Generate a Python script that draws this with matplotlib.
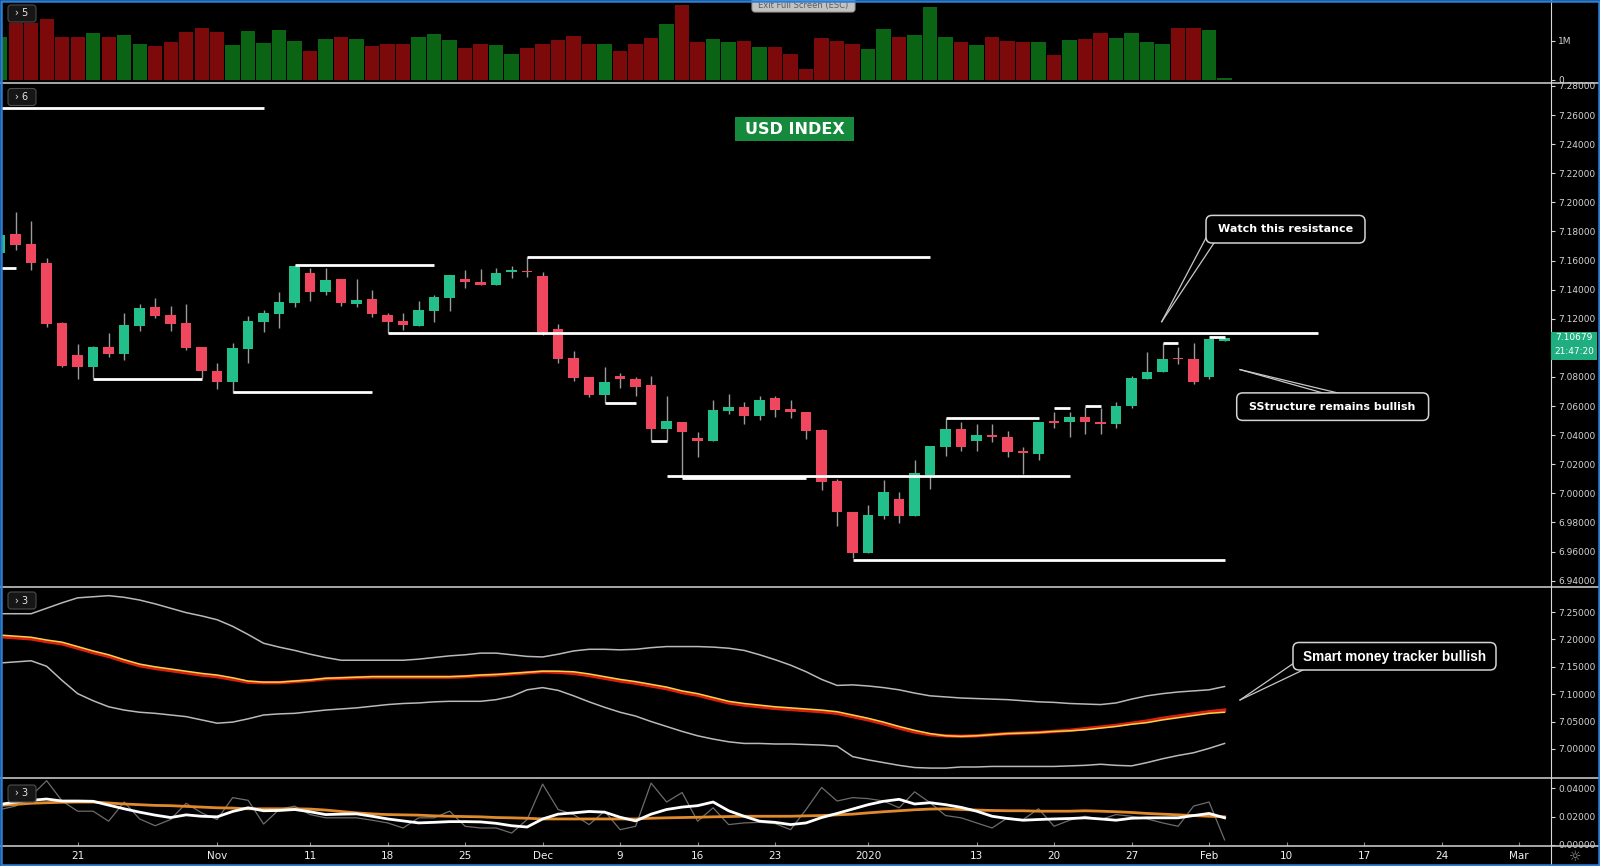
import numpy as np
import matplotlib.pyplot as plt
from matplotlib.patches import Rectangle, FancyBboxPatch
from matplotlib.lines import Line2D
from matplotlib import font_manager

# daily bars, index 0 = 21 Oct 2019 (weekends, 25 Dec and 1 Jan skipped)
bar_idx = np.arange(-5, 75)

opens = [7.1650, 7.1782, 7.1713, 7.1585, 7.1168, 7.0951, 7.0866, 7.1008, 7.0957, 7.1152,
         7.1282, 7.1225, 7.1168, 7.1008, 7.0841, 7.0767, 7.0990, 7.1179, 7.1232, 7.1310,
         7.1516, 7.1381, 7.1473, 7.1301, 7.1335, 7.1225, 7.1184, 7.1152, 7.1255, 7.1340,
         7.1473, 7.1450, 7.1432, 7.1520, 7.1525, 7.1493, 7.1127, 7.0928, 7.0797, 7.0676,
         7.0806, 7.0784, 7.0744, 7.0440, 7.0492, 7.0378, 7.0362, 7.0568, 7.0595, 7.0533,
         7.0653, 7.0577, 7.0557, 7.0435, 7.0087, 6.9874, 6.9588, 6.9844, 6.9961, 6.9846,
         7.0126, 7.0316, 7.0440, 7.0362, 7.0401, 7.0389, 7.0291, 7.0270, 7.0490, 7.0488,
         7.0526, 7.0492, 7.0474, 7.0600, 7.0786, 7.0832, 7.0925, 7.0921, 7.0801, 7.1049]
highs = [7.1800, 7.1935, 7.1871, 7.1615, 7.1179, 7.1026, 7.1014, 7.1100, 7.1237, 7.1299,
         7.1340, 7.1289, 7.1299, 7.1008, 7.0898, 7.1031, 7.1219, 7.1260, 7.1381, 7.1569,
         7.1546, 7.1546, 7.1473, 7.1473, 7.1397, 7.1241, 7.1237, 7.1322, 7.1363, 7.1500,
         7.1535, 7.1539, 7.1551, 7.1562, 7.1626, 7.1523, 7.1162, 7.0980, 7.0801, 7.0866,
         7.0829, 7.0801, 7.0806, 7.0671, 7.0492, 7.0423, 7.0641, 7.0680, 7.0630, 7.0671,
         7.0671, 7.0641, 7.0561, 7.0440, 7.0096, 6.9874, 6.9920, 7.0091, 7.0011, 7.0229,
         7.0325, 7.0515, 7.0488, 7.0474, 7.0474, 7.0428, 7.0316, 7.0492, 7.0561, 7.0561,
         7.0595, 7.0584, 7.0630, 7.0806, 7.0969, 7.1035, 7.1008, 7.1035, 7.1058, 7.1070]
lows = [7.1630, 7.1672, 7.1535, 7.1145, 7.0870, 7.0784, 7.0790, 7.0935, 7.0916, 7.1118,
        7.1207, 7.1118, 7.0985, 7.0790, 7.0715, 7.0687, 7.0898, 7.1111, 7.1138, 7.1282,
        7.1324, 7.1363, 7.1287, 7.1282, 7.1214, 7.1100, 7.1122, 7.1152, 7.1179, 7.1255,
        7.1409, 7.1432, 7.1432, 7.1478, 7.1485, 7.1088, 7.0898, 7.0774, 7.0664, 7.0623,
        7.0722, 7.0671, 7.0362, 7.0362, 7.0114, 7.0252, 7.0362, 7.0545, 7.0476, 7.0504,
        7.0526, 7.0520, 7.0373, 7.0023, 6.9775, 6.9553, 6.9588, 6.9821, 6.9794, 6.9846,
        7.0027, 7.0256, 7.0293, 7.0293, 7.0355, 7.0252, 7.0133, 7.0229, 7.0451, 7.0389,
        7.0405, 7.0408, 7.0447, 7.0584, 7.0786, 7.0832, 7.0887, 7.0751, 7.0783, 7.1045]
closes = [7.1775, 7.1706, 7.1581, 7.1162, 7.0875, 7.0866, 7.1008, 7.0957, 7.1157, 7.1271,
          7.1221, 7.1164, 7.0997, 7.0843, 7.0767, 7.0997, 7.1184, 7.1237, 7.1317, 7.1562,
          7.1386, 7.1466, 7.1306, 7.1328, 7.1230, 7.1175, 7.1157, 7.1260, 7.1347, 7.1500,
          7.1454, 7.1432, 7.1516, 7.1524, 7.1519, 7.1111, 7.0923, 7.0790, 7.0676, 7.0767,
          7.0784, 7.0733, 7.0440, 7.0497, 7.0419, 7.0362, 7.0573, 7.0595, 7.0533, 7.0641,
          7.0573, 7.0557, 7.0430, 7.0080, 6.9869, 6.9588, 6.9851, 7.0007, 6.9846, 7.0137,
          7.0325, 7.0440, 7.0320, 7.0401, 7.0385, 7.0286, 7.0275, 7.0492, 7.0486, 7.0526,
          7.0488, 7.0474, 7.0600, 7.0790, 7.0836, 7.0921, 7.0920, 7.0767, 7.1058, 7.1068]
volume_m = [1.105, 1.468, 1.468, 1.563, 1.105, 1.105, 1.192, 1.088, 1.149, 0.915,
            0.864, 0.976, 1.218, 1.321, 1.218, 0.889, 1.252, 0.950, 1.278, 0.993,
            0.743, 1.036, 1.088, 1.036, 0.864, 0.933, 0.933, 1.105, 1.166, 1.019,
            0.820, 0.915, 0.889, 0.674, 0.820, 0.933, 1.019, 1.123, 0.915, 0.933,
            0.734, 0.933, 1.062, 1.434, 1.926, 0.976, 1.036, 0.976, 1.002, 0.846,
            0.846, 0.674, 0.285, 1.062, 0.993, 0.915, 0.803, 1.295, 1.088, 1.149,
            1.865, 1.088, 0.976, 0.889, 1.105, 0.993, 0.959, 0.959, 0.630, 1.019,
            1.045, 1.192, 1.062, 1.192, 0.976, 0.933, 1.321, 1.321, 1.278, 0.050]

# smart money tracker pane
band_upper = [7.247, 7.247, 7.247, 7.257, 7.267, 7.276, 7.278, 7.280, 7.277, 7.272,
              7.265, 7.257, 7.249, 7.243, 7.236, 7.224, 7.209, 7.193, 7.186, 7.180,
              7.173, 7.167, 7.162, 7.162, 7.162, 7.162, 7.162, 7.164, 7.167, 7.170,
              7.172, 7.175, 7.175, 7.172, 7.169, 7.168, 7.173, 7.179, 7.182, 7.182,
              7.181, 7.182, 7.185, 7.187, 7.187, 7.187, 7.186, 7.184, 7.180, 7.172,
              7.163, 7.153, 7.141, 7.127, 7.116, 7.117, 7.115, 7.112, 7.108, 7.102,
              7.097, 7.095, 7.093, 7.092, 7.091, 7.090, 7.088, 7.086, 7.085, 7.083,
              7.082, 7.081, 7.084, 7.091, 7.097, 7.101, 7.104, 7.106, 7.108, 7.114]
band_lower = [7.157, 7.159, 7.161, 7.151, 7.125, 7.101, 7.088, 7.077, 7.071, 7.067,
              7.065, 7.062, 7.059, 7.053, 7.047, 7.049, 7.055, 7.062, 7.064, 7.065,
              7.068, 7.071, 7.073, 7.075, 7.078, 7.081, 7.083, 7.084, 7.086, 7.087,
              7.087, 7.087, 7.090, 7.096, 7.108, 7.112, 7.107, 7.097, 7.086, 7.076,
              7.067, 7.060, 7.050, 7.041, 7.032, 7.024, 7.018, 7.013, 7.010, 7.010,
              7.009, 7.009, 7.008, 7.007, 7.005, 6.986, 6.980, 6.975, 6.970, 6.966,
              6.965, 6.965, 6.967, 6.967, 6.968, 6.968, 6.968, 6.968, 6.968, 6.969,
              6.970, 6.972, 6.970, 6.969, 6.975, 6.982, 6.988, 6.993, 7.001, 7.010]
ma_red = [7.205, 7.203, 7.201, 7.196, 7.192, 7.184, 7.176, 7.169, 7.160, 7.152,
          7.147, 7.143, 7.139, 7.135, 7.132, 7.127, 7.122, 7.121, 7.121, 7.123,
          7.125, 7.128, 7.129, 7.130, 7.131, 7.131, 7.131, 7.131, 7.131, 7.131,
          7.132, 7.134, 7.135, 7.137, 7.139, 7.141, 7.140, 7.138, 7.134, 7.129,
          7.124, 7.120, 7.115, 7.110, 7.103, 7.098, 7.091, 7.084, 7.080, 7.077,
          7.074, 7.072, 7.070, 7.068, 7.065, 7.059, 7.053, 7.046, 7.038, 7.031,
          7.026, 7.024, 7.023, 7.024, 7.026, 7.028, 7.029, 7.030, 7.032, 7.034,
          7.037, 7.040, 7.043, 7.047, 7.051, 7.056, 7.060, 7.064, 7.068, 7.071]
ma_yellow = [7.208, 7.206, 7.204, 7.199, 7.195, 7.187, 7.179, 7.172, 7.163, 7.155,
             7.150, 7.146, 7.142, 7.138, 7.135, 7.130, 7.124, 7.122, 7.122, 7.124,
             7.126, 7.129, 7.130, 7.131, 7.132, 7.132, 7.132, 7.132, 7.132, 7.132,
             7.133, 7.135, 7.136, 7.138, 7.140, 7.142, 7.142, 7.141, 7.137, 7.132,
             7.127, 7.123, 7.118, 7.113, 7.106, 7.101, 7.094, 7.087, 7.083, 7.080,
             7.077, 7.075, 7.073, 7.071, 7.068, 7.062, 7.056, 7.049, 7.041, 7.034,
             7.028, 7.024, 7.023, 7.024, 7.026, 7.028, 7.029, 7.030, 7.032, 7.033,
             7.035, 7.038, 7.041, 7.045, 7.048, 7.053, 7.057, 7.061, 7.065, 7.067]

# oscillator pane
osc_raw = [0.0251, 0.0275, 0.0347, 0.0455, 0.0311, 0.0239, 0.0239, 0.0168, 0.0304, 0.0184,
           0.0136, 0.0180, 0.0295, 0.0227, 0.0180, 0.0335, 0.0316, 0.0148, 0.0251, 0.0275,
           0.0215, 0.0192, 0.0192, 0.0192, 0.0175, 0.0156, 0.0120, 0.0192, 0.0192, 0.0239,
           0.0132, 0.0120, 0.0120, 0.0084, 0.0180, 0.0431, 0.0251, 0.0215, 0.0144, 0.0239,
           0.0108, 0.0132, 0.0438, 0.0304, 0.0371, 0.0168, 0.0263, 0.0144, 0.0156, 0.0160,
           0.0151, 0.0108, 0.0251, 0.0407, 0.0311, 0.0335, 0.0328, 0.0311, 0.0263, 0.0376,
           0.0299, 0.0208, 0.0192, 0.0156, 0.0120, 0.0192, 0.0180, 0.0256, 0.0132, 0.0175,
           0.0203, 0.0180, 0.0215, 0.0203, 0.0184, 0.0156, 0.0132, 0.0275, 0.0304, 0.0036]
osc_fast = [0.0287, 0.0304, 0.0316, 0.0325, 0.0311, 0.0311, 0.0309, 0.0282, 0.0256, 0.0232,
            0.0211, 0.0194, 0.0213, 0.0203, 0.0199, 0.0237, 0.0263, 0.0242, 0.0244, 0.0251,
            0.0235, 0.0215, 0.0218, 0.0220, 0.0203, 0.0184, 0.0170, 0.0156, 0.0160, 0.0165,
            0.0165, 0.0163, 0.0153, 0.0136, 0.0127, 0.0184, 0.0218, 0.0227, 0.0237, 0.0232,
            0.0196, 0.0170, 0.0218, 0.0251, 0.0268, 0.0278, 0.0304, 0.0242, 0.0203, 0.0168,
            0.0160, 0.0144, 0.0156, 0.0194, 0.0223, 0.0254, 0.0285, 0.0309, 0.0323, 0.0290,
            0.0299, 0.0285, 0.0266, 0.0239, 0.0203, 0.0187, 0.0175, 0.0180, 0.0184, 0.0187,
            0.0192, 0.0184, 0.0175, 0.0189, 0.0192, 0.0192, 0.0192, 0.0208, 0.0223, 0.0192]
osc_slow = [0.0280, 0.0287, 0.0295, 0.0299, 0.0302, 0.0304, 0.0304, 0.0297, 0.0290, 0.0285,
            0.0280, 0.0278, 0.0273, 0.0268, 0.0263, 0.0261, 0.0256, 0.0256, 0.0256, 0.0256,
            0.0254, 0.0247, 0.0237, 0.0227, 0.0220, 0.0215, 0.0213, 0.0211, 0.0206, 0.0203,
            0.0201, 0.0199, 0.0194, 0.0192, 0.0189, 0.0184, 0.0184, 0.0184, 0.0184, 0.0184,
            0.0184, 0.0184, 0.0189, 0.0192, 0.0194, 0.0196, 0.0199, 0.0201, 0.0203, 0.0203,
            0.0203, 0.0203, 0.0206, 0.0208, 0.0213, 0.0218, 0.0227, 0.0235, 0.0242, 0.0249,
            0.0254, 0.0256, 0.0251, 0.0247, 0.0244, 0.0242, 0.0242, 0.0239, 0.0239, 0.0239,
            0.0242, 0.0239, 0.0235, 0.0230, 0.0223, 0.0218, 0.0213, 0.0208, 0.0203, 0.0199]

date_ticks = [0, 9, 15, 20, 25, 30, 35, 40, 45, 51, 58, 63, 68, 73, 78, 83, 88, 93]
date_labels = ['21', 'Nov', '11', '18', '25', 'Dec', '9', '16', '23', '2020',
               '13', '20', '27', 'Feb', '10', '17', '24', 'Mar']
# 7.10000 sits under the last-price tag, so it is left out
price_ticks = [6.94, 6.96, 6.98, 7.00, 7.02, 7.04, 7.06, 7.08, 7.12, 7.14,
               7.16, 7.18, 7.20, 7.22, 7.24, 7.26, 7.28]
tracker_ticks = [7.00, 7.05, 7.10, 7.15, 7.20, 7.25]
osc_ticks = [0.00, 0.02, 0.04]
vol_ticks = [0, 1]
vol_labels = ['0', '1M']

# hand drawn levels: (price, first bar, last bar)
levels = [(7.2647, -5, 12), (7.1546, -5, -4), (7.0783, 1, 8), (7.0694, 10, 19),
          (7.1569, 14, 23), (7.1100, 20, 80), (7.1626, 29, 55), (7.0623, 34, 36),
          (7.0362, 37, 38), (7.0119, 38, 64), (7.0103, 39, 47), (7.0515, 56, 62),
          (6.9542, 50, 74), (7.0584, 63, 64), (7.0600, 65, 66), (7.1031, 70, 71),
          (7.1076, 73, 74)]
last_price = 7.10679
countdown = '21:47:20'

UP, DOWN = '#22bf8a', '#f0475f'
VOL_UP, VOL_DOWN = '#0b6414', '#7d0a0a'

plt.rcParams['font.family'] = ['DejaVu Sans']
names = {f.name for f in font_manager.fontManager.ttflist}
narrow = 'Liberation Sans Narrow' if 'Liberation Sans Narrow' in names else 'Liberation Sans'

W, H = 1600, 866
fig = plt.figure(figsize=(W / 100, H / 100), dpi=100, facecolor='black')
T = fig.dpi_scale_trans


def P(x, y):
    return x / 100, (H - y) / 100


def seg(x0, y0, x1, y1, **kw):
    fig.add_artist(Line2D([x0 / 100, x1 / 100], [(H - y0) / 100, (H - y1) / 100],
                          transform=T, **kw))


def box(x0, y0, x1, y1, r, fc, ec, lw=1.0, z=5):
    style = f'round,pad=0,rounding_size={r / 100}' if r else 'square,pad=0'
    fig.add_artist(FancyBboxPatch(P(x0, y1), (x1 - x0) / 100, (y1 - y0) / 100,
                                  boxstyle=style, transform=T, fc=fc, ec=ec, lw=lw, zorder=z))


def add_pane(top, bottom, ylim):
    ax = fig.add_axes([2 / W, 1 - bottom / H, 1549 / W, (bottom - top) / H])
    ax.set_facecolor('black')
    for s in ax.spines.values():
        s.set_visible(False)
    ax.set_xlim(-4.88, 95.06)
    ax.set_ylim(*ylim)
    ax.tick_params(axis='x', bottom=False, labelbottom=False)
    ax.yaxis.tick_right()
    ax.tick_params(axis='y', colors='#d4d4d4', labelsize=6.5, length=3, width=0.8, pad=2)
    return ax


o, h, l, c = map(np.array, (opens, highs, lows, closes))
up = c >= o

# volume
ax_v = add_pane(2, 82, (-0.052, 1.995))
ax_v.bar(bar_idx, volume_m, width=0.92, color=np.where(up, VOL_UP, VOL_DOWN))
ax_v.set_yticks(vol_ticks)
ax_v.set_yticklabels(vol_labels)

# price candles
ax = add_pane(83, 586, (6.9363, 7.2820))
ax.vlines(bar_idx, l, h, color='#9a9a9a', lw=1, zorder=2)
ax.bar(bar_idx, np.maximum(np.abs(c - o), 0.0012), bottom=np.minimum(o, c), width=0.68,
       color=np.where(up, UP, DOWN), zorder=3)
for price, a, b in levels:
    ax.hlines(price, a, b, color='white', lw=2.0, zorder=4)
ax.set_yticks(price_ticks)
ax.set_yticklabels([f'{t:.5f}' for t in price_ticks])

# smart money tracker
ax3 = add_pane(587.5, 777, (6.9487, 7.2949))
ax3.plot(bar_idx, band_upper, color='#b9b9b9', lw=1.1)
ax3.plot(bar_idx, band_lower, color='#b9b9b9', lw=1.1)
ax3.plot(bar_idx, ma_red, color='#d8200f', lw=2.4)
ax3.plot(bar_idx, ma_yellow, color='#f3d34a', lw=1.1)
ax3.set_yticks(tracker_ticks)
ax3.set_yticklabels([f'{t:.5f}' for t in tracker_ticks])

# oscillator
ax4 = add_pane(778, 845.5, (-0.0004, 0.0474))
ax4.plot(bar_idx, osc_raw, color='#6c6c6c', lw=0.9)
ax4.plot(bar_idx, osc_slow, color='#e08a2c', lw=2.0)
ax4.plot(bar_idx, osc_fast, color='white', lw=2.0)
ax4.set_yticks(osc_ticks)
ax4.set_yticklabels([f'{t:.5f}' for t in osc_ticks])
ax4.set_xticks(date_ticks)
ax4.set_xticklabels(date_labels)
ax4.tick_params(axis='x', bottom=True, labelbottom=True, direction='in', length=3,
                color='#8a8a8a', labelcolor='#f0f0f0', labelsize=7.5, pad=4)

# pane separators and price axis line
for y in (82.5, 587, 777.5, 845.5):
    seg(0, y, W, y, color='#c4c4c4', lw=1.2, zorder=6)
seg(1551, 0, 1551, H, color='#d8d8d8', lw=0.8, zorder=6)

# last price label
fig.add_artist(Rectangle(P(1551, 360), 46 / 100, 28.3 / 100, transform=T, fc='#1fae80', ec='none', zorder=7))
fig.text(*P(1574, 337.6), f'{last_price:.5f}', transform=T, color='white', fontsize=6.5,
         ha='center', va='center', zorder=8)
fig.text(*P(1574, 351.5), countdown, transform=T, color='white', fontsize=6.5,
         ha='center', va='center', zorder=8)

# pane tags
for y0, tag in ((5, '› 5'), (88.5, '› 6'), (592, '› 3'), (785, '› 3')):
    box(8, y0, 36, y0 + 17, 3, '#161616', '#4c4c4c', lw=0.8, z=7)
    fig.text(*P(22, y0 + 8.5), tag, transform=T, color='#e6e6e6', fontsize=7,
             ha='center', va='center', zorder=8)

# exit full screen button
box(752, -4, 855, 12, 3, '#c2c2c2', '#9a9a9a', lw=0.8, z=7)
fig.text(*P(803.5, 5.5), 'Exit Full Screen (ESC)', transform=T, color='#5c5c5c',
         fontsize=6, ha='center', va='center', zorder=8)

# title tag
box(734.7, 117.4, 854, 140.9, 0, '#168a3c', 'none', lw=0, z=7)
fig.text(*P(794.4, 129.6), 'USD INDEX', transform=T, color='white', fontsize=11.5,
         fontweight='bold', ha='center', va='center', zorder=8)

# callouts
pointer = dict(color='#c8c8c8', lw=0.9, zorder=6)
seg(1207, 236, 1161.7, 321.7, **pointer)
seg(1214, 243, 1161.7, 321.7, **pointer)
box(1206, 215.4, 1365, 243, 6, 'black', '#d4d4d4', lw=1.1, z=7)
fig.text(*P(1285.5, 229.5), 'Watch this resistance', transform=T, color='white',
         fontsize=8, fontweight='bold', ha='center', va='center', zorder=8)

seg(1323, 393, 1240, 369.6, **pointer)
seg(1338, 393, 1240, 369.6, **pointer)
box(1236.7, 392.9, 1428.6, 420.4, 6, 'black', '#d4d4d4', lw=1.1, z=7)
fig.text(*P(1332.6, 407), 'SStructure remains bullish', transform=T, color='white',
         fontsize=8, fontweight='bold', ha='center', va='center', zorder=8)

seg(1294, 663, 1240, 700, **pointer)
seg(1303, 670, 1240, 700, **pointer)
box(1293, 642.5, 1496, 670, 6, 'black', '#d4d4d4', lw=1.1, z=7)
fig.text(*P(1394.5, 656.5), 'Smart money tracker bullish', transform=T, color='white',
         fontsize=9.8, fontweight='bold', family=narrow, ha='center', va='center', zorder=8)

# settings icon and window border
fig.text(*P(1575, 857), '☼', transform=T, color='#9a9a9a', fontsize=10,
         ha='center', va='center', zorder=8)
fig.add_artist(Rectangle(P(1.2, H - 1.2), (W - 2.4) / 100, (H - 2.4) / 100, transform=T,
                         fill=False, ec='#2b7fd6', lw=1.8, zorder=9))

fig.savefig('out.png', dpi=100, facecolor='black')
